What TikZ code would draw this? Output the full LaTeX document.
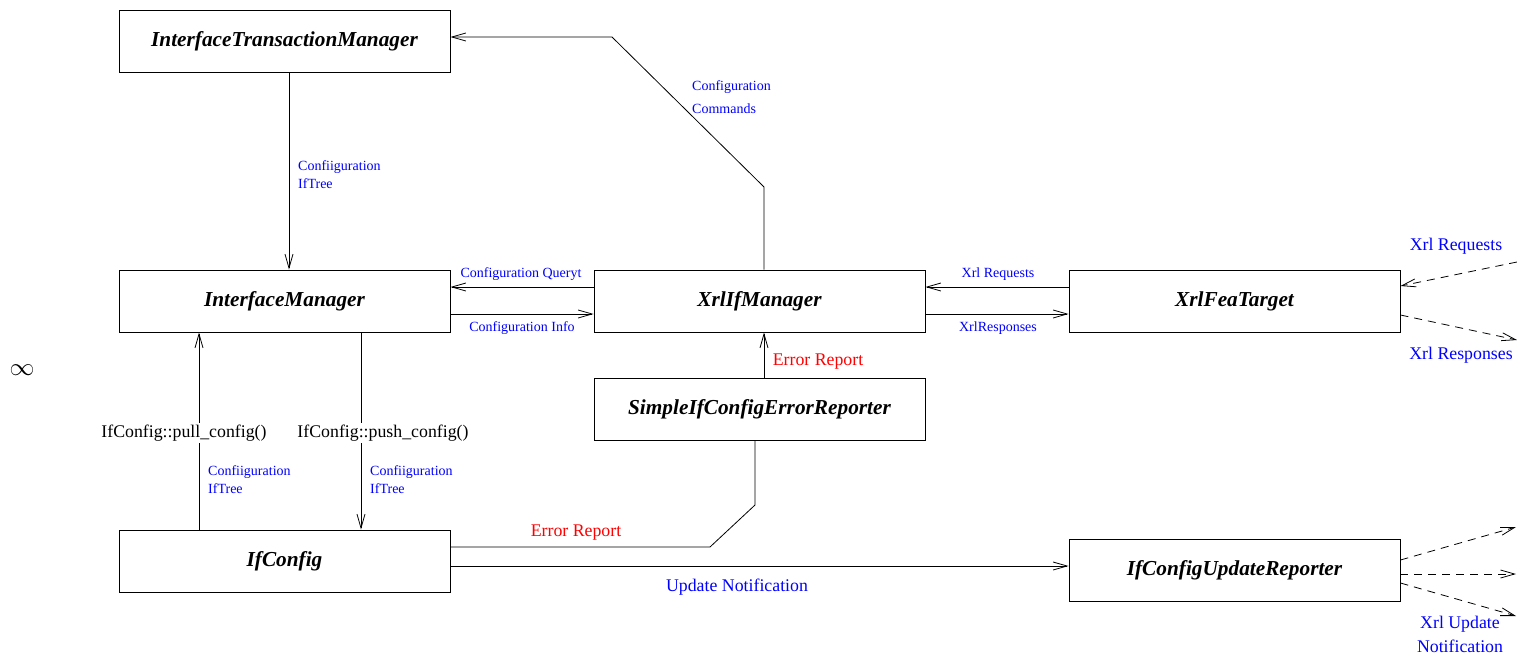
\documentclass[tikz,border=0pt]{standalone}
\usepackage{fontspec}
\setmainfont{Liberation Serif}
\usetikzlibrary{arrows.meta}
\tikzset{
  cls/.style={draw,line width=0.9pt,minimum width=331pt,minimum height=62pt,inner sep=0pt,
    font=\fontsize{21.3}{25}\selectfont\bfseries\itshape},
  arr/.style={-{Straight Barb[length=14pt,width=8pt]},line width=0.8pt},
  plain/.style={line width=0.8pt},
  remote/.style={-{Straight Barb[length=14pt,width=8pt]},line width=0.8pt,dash pattern=on 8pt off 6pt},
  msg/.style={text=blue,font=\fontsize{14}{18}\selectfont,inner sep=0pt},
  bigmsg/.style={text=blue,font=\fontsize{17.8}{24}\selectfont,inner sep=0pt},
  errmsg/.style={text=red,font=\fontsize{17.8}{24}\selectfont,inner sep=0pt},
  call/.style={font=\fontsize{17.8}{24}\selectfont,inner sep=2pt,fill=white}
}
\begin{document}
\begin{tikzpicture}[x=1pt,y=-1pt]
  \useasboundingbox (0,0) rectangle (1517,656);
  % classes
  \node[cls] (itm) at (284.5,41) {InterfaceTransactionManager};
  \node[cls] (ifmgr) at (284.5,301) {InterfaceManager};
  \node[cls] (xifmgr) at (759.5,301) {XrlIfManager};
  \node[cls] (xfea) at (1234.5,301) {XrlFeaTarget};
  \node[cls] (serr) at (759.5,409) {SimpleIfConfigErrorReporter};
  \node[cls] (ifcfg) at (284.5,561) {IfConfig};
  \node[cls] (upd) at (1234.5,570) {IfConfigUpdateReporter};
  \node (inf) at (22,370) {\fontsize{24}{28}\selectfont$\infty$};
  % bends and free ends
  \coordinate (cmdbend1) at (764,187);
  \coordinate (cmdbend2) at (612,37);
  \coordinate (errbend1) at (755,505);
  \coordinate (errbend2) at (710,547);
  \coordinate (reqin) at (1517,262);
  \coordinate (rspout) at (1517,340);
  \coordinate (updout1) at (1516,527);
  \coordinate (updout2) at (1516,574);
  \coordinate (updout3) at (1516,616);
  % connectors
  \draw[arr] ([xshift=4.5pt]itm.south) -- ([xshift=4.5pt]ifmgr.north);
  \draw[arr] ([xshift=4.5pt]xifmgr.north) -- (cmdbend1) -- (cmdbend2) -- (cmdbend2 -| itm.east);
  \draw[arr] ([yshift=14pt]xifmgr.west) -- ([yshift=14pt]ifmgr.east);
  \draw[arr] ([yshift=-13pt]ifmgr.east) -- ([yshift=-13pt]xifmgr.west);
  \draw[arr] ([yshift=14pt]xfea.west) -- ([yshift=14pt]xifmgr.east);
  \draw[arr] ([yshift=-13pt]xifmgr.east) -- ([yshift=-13pt]xfea.west);
  \draw[arr] ([xshift=4.5pt]serr.north) -- ([xshift=4.5pt]xifmgr.south);
  \draw[arr] ([xshift=-85.5pt]ifcfg.north) -- ([xshift=-85.5pt]ifmgr.south);
  \draw[arr] ([xshift=76.5pt]ifmgr.south) -- ([xshift=76.5pt]ifcfg.north);
  \draw[plain] ([xshift=-4.5pt]serr.south) -- (errbend1) -- (errbend2) -- (errbend2 -| ifcfg.east);
  \draw[arr] ([yshift=-5pt]ifcfg.east) -- ([yshift=-5pt]ifcfg.east -| upd.west);
  \draw[remote] (reqin) -- ([yshift=15pt]xfea.east);
  \draw[remote] ([yshift=-14pt]xfea.east) -- (rspout);
  \draw[remote] ([yshift=10pt]upd.east) -- (updout1);
  \draw[remote] ([yshift=-4pt]upd.east) -- (updout2);
  \draw[remote] ([yshift=-13pt]upd.east) -- (updout3);
  % labels
  \node[msg,anchor=west,align=left] (lblitm) at (298,175) {Confiiguration\\IfTree};
  \node[msg,anchor=west,align=left,font=\fontsize{14}{23}\selectfont] (lblcmd) at (692,97) {Configuration\\Commands};
  \node[msg] (lblqry) at (521,274) {Configuration Queryt};
  \node[msg] (lblinfo) at (522,328) {Configuration Info};
  \node[msg] (lblreq) at (998,274) {Xrl Requests};
  \node[msg] (lblrsp) at (998,328) {XrlResponses};
  \node[errmsg] (lblerr1) at (818,362) {Error Report};
  \node[call] (pull) at (184,433) {IfConfig::pull\_config()};
  \node[call] (push) at (383,433) {IfConfig::push\_config()};
  \node[msg,anchor=west,align=left] (lblpull) at (208,480) {Confiiguration\\IfTree};
  \node[msg,anchor=west,align=left] (lblpush) at (370,480) {Confiiguration\\IfTree};
  \node[errmsg] (lblerr2) at (576,533) {Error Report};
  \node[bigmsg] (lblupd) at (737,587) {Update Notification};
  \node[bigmsg] (lblxreq) at (1456,246) {Xrl Requests};
  \node[bigmsg] (lblxrsp) at (1461,355) {Xrl Responses};
  \node[bigmsg,align=center] (lblxupd) at (1460,634) {Xrl Update\\Notification};
\end{tikzpicture}
\end{document}
